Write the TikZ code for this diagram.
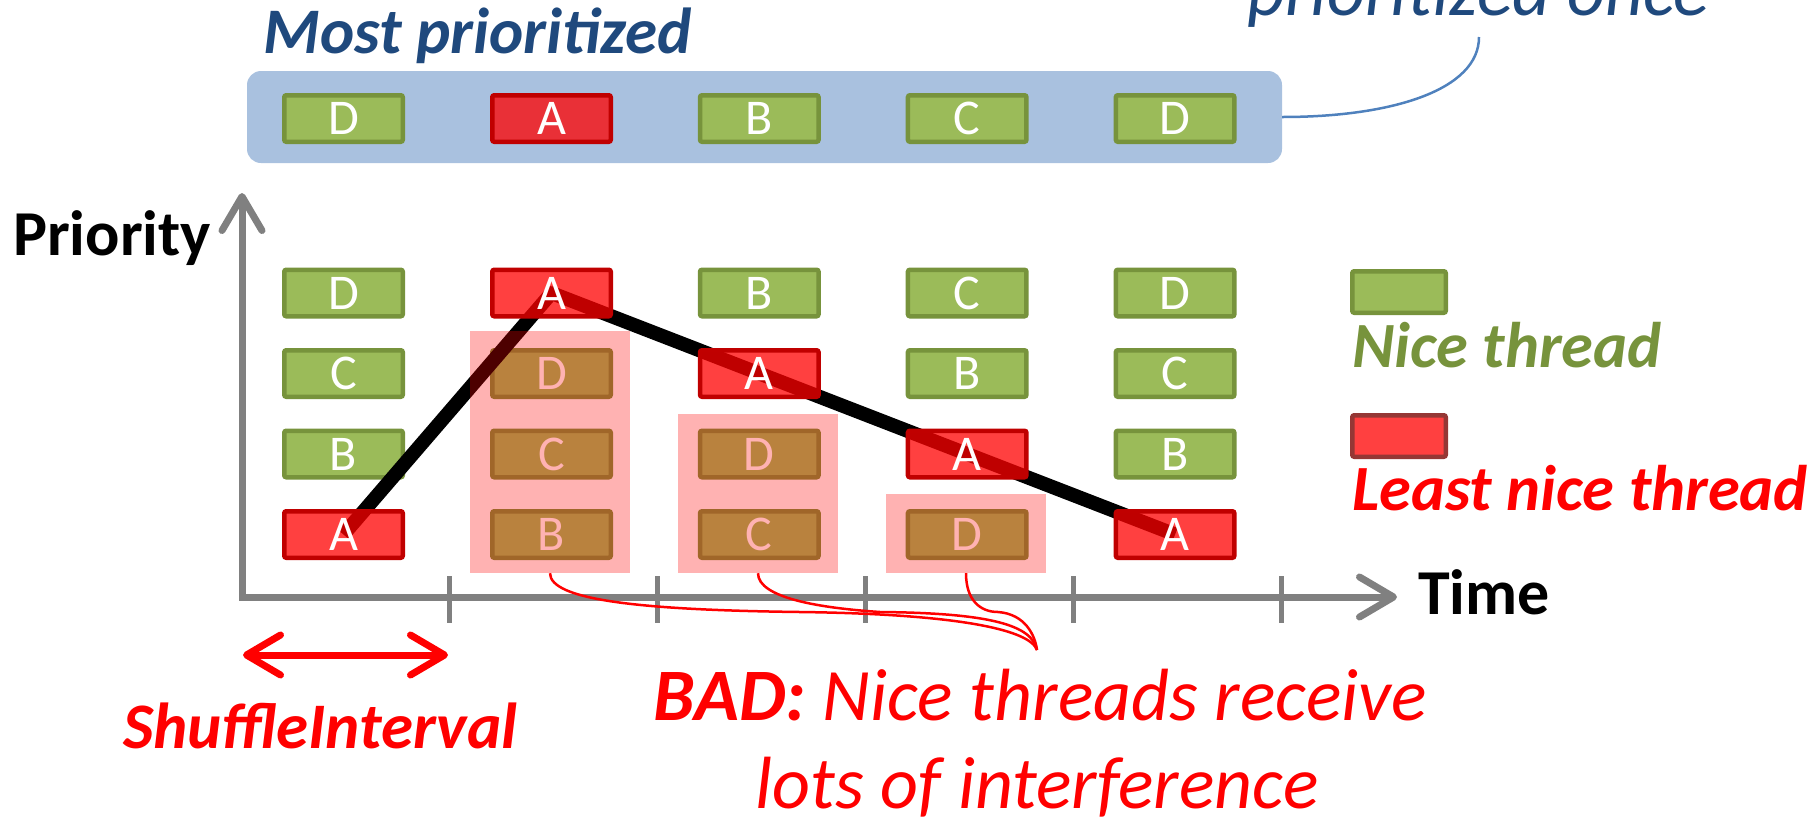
\documentclass[tikz,border=0pt]{standalone}
\usepackage{fontspec}
\setmainfont{Carlito}
\usetikzlibrary{arrows.meta,calc}
\definecolor{gfill}{HTML}{9BBB59}
\definecolor{gdraw}{HTML}{77933C}
\definecolor{rdraw}{HTML}{C00000}
\definecolor{bluebox}{HTML}{A9C1DF}
\definecolor{titleblue}{HTML}{1F497D}
\definecolor{callblue}{HTML}{4F81BD}
\definecolor{axisgray}{HTML}{808080}
\definecolor{legred}{HTML}{FF4040}
\definecolor{legreddraw}{HTML}{953735}
\newcommand\myfs[1]{\fontsize{#1}{#1}\selectfont}
\begin{document}
\begin{tikzpicture}[x=1pt,y=-1pt,
  thr/.style={minimum width=118.5pt, minimum height=46.5pt, inner sep=0pt, line width=4.5pt, rounded corners=2pt, text=white, font=\myfs{50}},
  nice/.style={thr, fill=gfill, draw=gdraw},
  bad/.style={thr, fill=red, fill opacity=0.75, text opacity=1, draw=rdraw, draw opacity=1},
  overlay box/.style={fill=red, fill opacity=0.3, inner sep=0pt, minimum width=160pt},
  lbl/.style={anchor=base west, inner sep=0pt},
  axisline/.style={draw=axisgray, line width=7pt, line join=miter},
  tickline/.style={draw=axisgray, line width=5pt},
  brace/.style={draw=red, line width=2.5pt},
  legbox/.style={minimum width=93.5pt, minimum height=41.5pt, inner sep=0pt, line width=4.5pt, rounded corners=2pt},
]
\useasboundingbox (0,0) rectangle (1818,820);
\clip (0,0) rectangle (1818,820);

% ---- top: most prioritized strip ----
\node[lbl, font=\myfs{65}\bfseries\itshape, text=titleblue] (title) at (263,53) {Most prioritized};
\node[lbl, font=\myfs{74}\itshape, text=titleblue] (once) at (1247,15) {prioritized once};
\node[fill=bluebox, rounded corners=14pt, minimum width=1035pt, minimum height=92pt, inner sep=0pt] (strip) at (764.5,117) {};
\coordinate (callstart) at (1479,37);
\draw[draw=callblue, line width=2.5pt] (callstart) .. controls (1479,90) and (1392,117) .. (strip.east);

\node[nice] (t1) at (343.5,118.5) {D};
\node[bad, fill=red] (t2) at (551.5,118.5) {A};
\node[nice] (t3) at (759.3,118.5) {B};
\node[nice] (t4) at (967.2,118.5) {C};
\node[nice] (t5) at (1175.1,118.5) {D};

% ---- axes ----
\coordinate (ytop) at (242,193);
\coordinate (origin) at (242,597);
\coordinate (xend) at (1397,597);
\draw[axisline, {Straight Barb[length=34pt,width=40pt,line cap=round,line join=round]}-{Straight Barb[length=34pt,width=40pt,line cap=round,line join=round]}] (ytop) -- (origin) -- (xend);
\foreach \tx/\tn in {449.5/1,657.5/2,865.5/3,1073.5/4,1281.5/5} {
  \coordinate (tk\tn a) at (\tx,576);
  \coordinate (tk\tn b) at (\tx,623);
  \draw[tickline] (tk\tn a) -- (tk\tn b);
}
\node[lbl, font=\myfs{64}\bfseries] (prio) at (13,255) {Priority};
\node[lbl, font=\myfs{64}\bfseries] (time) at (1418,614) {Time};

% ---- grid: nice threads ----
\node[nice] (g11) at (343.5,293) {D};
\node[nice] (g12) at (343.5,373.5) {C};
\node[nice] (g13) at (343.5,454) {B};
\node[nice] (g22) at (551.5,373.5) {D};
\node[nice] (g23) at (551.5,454) {C};
\node[nice] (g24) at (551.5,534.5) {B};
\node[nice] (g31) at (759.3,293) {B};
\node[nice] (g33) at (759.3,454) {D};
\node[nice] (g34) at (759.3,534.5) {C};
\node[nice] (g41) at (967.2,293) {C};
\node[nice] (g42) at (967.2,373.5) {B};
\node[nice] (g44) at (967.2,534.5) {D};
\node[nice] (g51) at (1175.1,293) {D};
\node[nice] (g52) at (1175.1,373.5) {C};
\node[nice] (g53) at (1175.1,454) {B};

% ---- least nice thread path ----
\coordinate (p1) at (343.5,534.5);
\coordinate (p2) at (551.5,293);
\coordinate (p3) at (759.3,373.5);
\coordinate (p4) at (967.2,454);
\coordinate (p5) at (1175.1,534.5);
\draw[line width=14pt, line join=round] (p1) -- (p2) -- (p5);
\node[bad] (a1) at (p1) {A};
\node[bad] (a2) at (p2) {A};
\node[bad] (a3) at (p3) {A};
\node[bad] (a4) at (p4) {A};
\node[bad] (a5) at (p5) {A};

% ---- interference overlays ----
\node[overlay box, minimum height=242pt] (ov2) at (550,452) {};
\node[overlay box, minimum height=159pt] (ov3) at (758,493.5) {};
\node[overlay box, minimum height=79pt] (ov4) at (966,533.5) {};

% ---- braces to the BAD label ----
\coordinate (tip) at (1037,650);
\draw[brace] (ov2.south) .. controls (550,600) and (640,610) .. (800,612) .. controls (960,614) and (1030,630) .. (tip);
\draw[brace] (ov3.south) .. controls (758,598) and (820,608) .. (880,612) .. controls (990,613) and (1032,625) .. (tip);
\draw[brace] (ov4.south) .. controls (966,600) and (980,612) .. (998,612) .. controls (1025,614) and (1035,635) .. (tip);

\node[anchor=base, inner sep=0pt, font=\myfs{74}\itshape, text=red] (bad1) at (1040,720) {{\bfseries BAD:} Nice threads receive};
\node[anchor=base, inner sep=0pt, font=\myfs{74}\itshape, text=red] (bad2) at (1037,808) {lots of interference};

% ---- shuffle interval ----
\coordinate (sl) at (243,655);
\coordinate (sr) at (448,655);
\draw[draw=red, line width=7pt, {Straight Barb[length=34pt,width=40pt,line cap=round,line join=round]}-{Straight Barb[length=34pt,width=40pt,line cap=round,line join=round]}] (sl) -- (sr);
\node[lbl, font=\myfs{65}\bfseries\itshape, text=red] (shuf) at (123,748) {ShuffleInterval};

% ---- legend ----
\node[legbox, fill=gfill, draw=gdraw] (legg) at (1399,292) {};
\node[lbl, font=\myfs{64.5}\bfseries\itshape, text=gdraw] (legglbl) at (1352,367) {Nice thread};
\node[lbl, font=\myfs{64.5}\bfseries\itshape, text=red] (legrlbl) at (1352,510) {Least nice thread};
\node[legbox, fill=legred, draw=legreddraw] (legr) at (1399,436) {};
\end{tikzpicture}
\end{document}
